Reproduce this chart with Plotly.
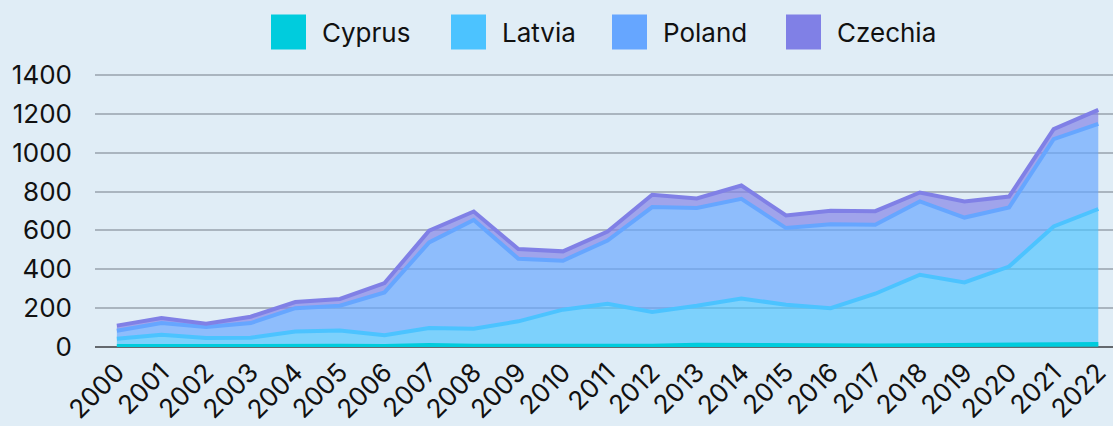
import plotly.graph_objects as go

years = list(range(2000, 2023))
cyprus = [5, 6, 5, 5, 6, 6, 5, 10, 7, 6, 8, 8, 6, 12, 10, 12, 8, 8, 9, 10, 9, 14, 16]
latvia = [38, 57, 41, 43, 74, 79, 55, 88, 87, 126, 184, 215, 174, 200, 240, 205, 192, 266, 363, 322, 405, 606, 694]
poland = [41, 60, 57, 75, 120, 127, 221, 440, 560, 322, 252, 325, 540, 503, 512, 395, 432, 355, 377, 334, 304, 449, 438]
czechia = [26, 26, 17, 33, 31, 35, 48, 60, 43, 50, 48, 46, 63, 49, 69, 65, 69, 70, 46, 83, 56, 52, 72]

series = [("Cyprus", cyprus), ("Latvia", latvia), ("Poland", poland), ("Czechia", czechia)]
line_colors = ["rgb(0,204,221)", "rgb(76,195,255)", "rgb(102,166,255)", "rgb(128,128,230)"]
fill_colors = ["rgba(0,204,221,0.67)", "rgba(76,195,255,0.67)", "rgba(102,166,255,0.67)", "rgba(128,128,230,0.67)"]

W, H = 1113, 426
ML, MR, MT, MB = 95, 0, 71, 79
BG = "rgb(224,237,246)"
FONT = "Inter"

fig = go.Figure()
for (name, vals), lc, fc in zip(series, line_colors, fill_colors):
    fig.add_trace(go.Scatter(
        x=years, y=vals, name=name, mode="lines",
        stackgroup="one", line=dict(color=lc, width=4),
        fillcolor=fc, showlegend=False,
    ))

# manual legend (pixel positions -> paper coords)
pw, ph = W - ML - MR, H - MT - MB
def px(x):
    return (x - ML) / pw
def py(y):
    return (H - MB - y) / ph

legend_x = [271, 451, 612, 786]
for (name, _), lc, lx in zip(series, line_colors, legend_x):
    fig.add_shape(type="rect", xref="paper", yref="paper",
                  x0=px(lx), x1=px(lx + 35), y0=py(49.5), y1=py(14.5),
                  fillcolor=lc, line=dict(width=0), layer="above")
    fig.add_annotation(xref="paper", yref="paper", x=px(lx + 49), y=py(32),
                       text=name, showarrow=False, xanchor="left", yanchor="middle",
                       font=dict(family=FONT, size=26, color="#111111"))

fig.update_layout(
    width=W, height=H,
    margin=dict(l=ML, r=MR, t=MT, b=MB),
    paper_bgcolor=BG, plot_bgcolor=BG,
    font=dict(family=FONT, size=26, color="#111111"),
    showlegend=False,
)
fig.update_xaxes(
    range=[1999.51, 2022.33], tickmode="array", tickvals=years,
    ticktext=[str(y) for y in years], tickangle=-45,
    showgrid=False, zeroline=False, showline=False,
    tickfont=dict(family=FONT, size=26, color="#111111"),
    automargin=False, ticks="", ticklabelstandoff=4,
)
fig.update_yaxes(
    range=[0, 1420], tickvals=[0, 200, 400, 600, 800, 1000, 1200, 1400],
    showgrid=True, gridcolor="rgb(170,181,191)", gridwidth=1.5,
    zeroline=True, zerolinecolor="rgb(100,105,110)", zerolinewidth=1.5,
    tickfont=dict(family=FONT, size=26, color="#111111"),
    automargin=False, ticks="", ticklabelstandoff=22,
)

post = ("document.body.style.margin='0';"
        "document.body.style.padding='0';"
        "document.body.style.overflow='hidden';"
        "document.body.style.background='" + BG + "';")
fig.write_html("out.html", post_script=post, config={"displayModeBar": False})
